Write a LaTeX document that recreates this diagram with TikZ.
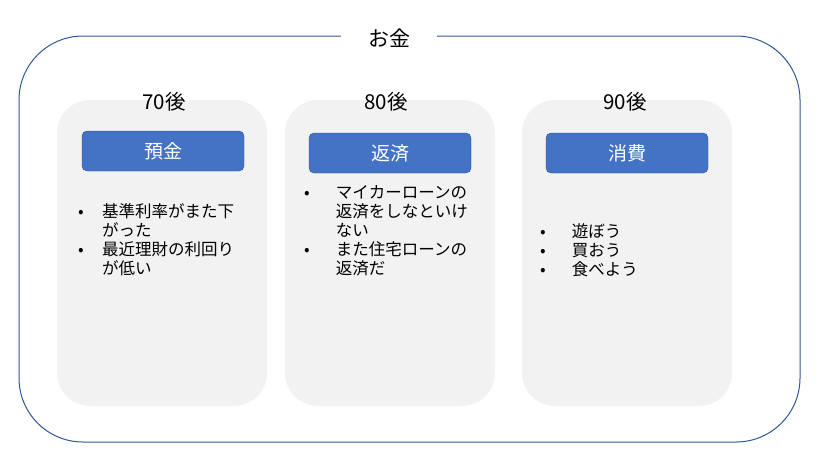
\documentclass[tikz,border=0pt]{standalone}
\usepackage{fontspec}
\setmainfont{Noto Sans CJK JP}
\usepackage{xcolor}
\usetikzlibrary{positioning}

\definecolor{frameblue}{HTML}{2F5597}
\definecolor{panelgray}{HTML}{F2F2F2}
\definecolor{headblue}{HTML}{4472C4}
\definecolor{headline}{HTML}{2F528F}

\newcommand{\bitem}[1][24pt]{\makebox[#1][l]{•}}
\newcommand{\bcont}[1][24pt]{\hspace*{#1}}

\begin{document}
\begin{tikzpicture}[
    x=1pt, y=-1pt,
    panel/.style={rectangle, fill=panelgray, rounded corners=33pt, minimum width=210pt, minimum height=306pt, inner sep=0pt},
    head/.style={rectangle, draw=headline, fill=headblue, rounded corners=5pt, minimum width=162pt, minimum height=40pt, inner sep=0pt, text=white, font=\fontsize{19}{22}\selectfont},
    gen/.style={font=\fontsize{20.5}{24}\selectfont, inner sep=0pt},
    items/.style={anchor=north west, align=left, inner sep=0pt, font=\fontsize{16.5}{19.2}\selectfont}
]
\useasboundingbox (0,0) rectangle (818,458);

% outer frame
\draw[frameblue, line width=1pt, rounded corners=64pt] (19,36) rectangle (800,442);
\node[fill=white, minimum width=96pt, minimum height=20pt, inner sep=0pt, font=\fontsize{21}{24}\selectfont] (money) at (389,38) {お金};

% panels
\node[panel] (p70) at (162,253) {};
\node[panel] (p80) at (390,253) {};
\node[panel] (p90) at (627,253) {};

% generation labels
\node[gen] (g70) at (164,102) {70後};
\node[gen] (g80) at (386,102) {80後};
\node[gen] (g90) at (625,102) {90後};

% headers
\node[head] (h70) at (163,151) {預金};
\node[head] (h80) at (390,153) {返済};
\node[head] (h90) at (627,153) {消費};

% bullet lists
\node[items] (l70) at (78,203) {\bitem 基準利率がまた下\\ \bcont がった\\ \bitem 最近理財の利回り\\ \bcont が低い};
\node[items] (l80) at (304,185) {\bitem[28pt] マイカーローンの\\ \bcont[28pt] 返済をしなといけ\\ \bcont[28pt] ない\\ \bitem[28pt] また住宅ローンの\\ \bcont[28pt] 返済だ};
\node[items] (l90) at (540,223) {\bitem[28pt] 遊ぼう\\ \bitem[28pt] 買おう\\ \bitem[28pt] 食べよう};

\end{tikzpicture}
\end{document}
